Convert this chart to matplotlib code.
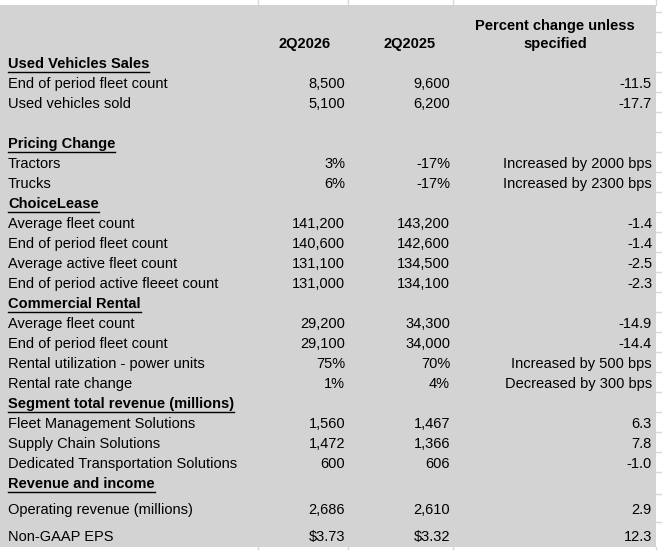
import matplotlib.pyplot as plt

plt.rcParams['font.family'] = ['Liberation Sans', 'DejaVu Sans']

# (label, 2Q2026, 2Q2025, change, is_section, y_pixel)
labels = ["Used Vehicles Sales", "End of period fleet count", "Used vehicles sold", "",
          "Pricing Change", "Tractors", "Trucks",
          "ChoiceLease", "Average fleet count", "End of period fleet count",
          "Average active fleet count", "End of period active fleeet count",
          "Commercial Rental", "Average fleet count", "End of period fleet count",
          "Rental utilization - power units", "Rental rate change",
          "Segment total revenue (millions)", "Fleet Management Solutions",
          "Supply Chain Solutions", "Dedicated Transportation Solutions",
          "Revenue and income", "Operating revenue (millions)", "Non-GAAP EPS"]
q2026 = ["", "8,500", "5,100", "", "", "3%", "6%", "", "141,200", "140,600",
         "131,100", "131,000", "", "29,200", "29,100", "75%", "1%", "",
         "1,560", "1,472", "600", "", "2,686", "$3.73"]
q2025 = ["", "9,600", "6,200", "", "", "-17%", "-17%", "", "143,200", "142,600",
         "134,500", "134,100", "", "34,300", "34,000", "70%", "4%", "",
         "1,467", "1,366", "606", "", "2,610", "$3.32"]
change = ["", "-11.5", "-17.7", "", "", "Increased by 2000 bps", "Increased by 2300 bps",
          "", "-1.4", "-1.4", "-2.5", "-2.3", "", "-14.9", "-14.4",
          "Increased by 500 bps", "Decreased by 300 bps", "", "6.3", "7.8", "-1.0",
          "", "2.9", "12.3"]
sections = {"Used Vehicles Sales", "Pricing Change", "ChoiceLease", "Commercial Rental",
            "Segment total revenue (millions)", "Revenue and income"}

W, H = 662, 550
fig = plt.figure(figsize=(W / 100, H / 100), dpi=100)
ax = fig.add_axes([0, 0, 1, 1])
ax.set_xlim(0, W)
ax.set_ylim(H, 0)
ax.axis("off")

# white margins with faint grid, gray block
for x in [258, 348, 453, 656]:
    ax.plot([x, x], [0, 5], color="#d8d8d8", lw=1)
    ax.plot([x, x], [547, H], color="#d8d8d8", lw=1)
for y in [12, 32, 52, 72, 92, 112, 132, 152, 172, 192, 212, 232, 252, 272, 292, 312,
          332, 352, 372, 392, 412, 432, 452, 472, 494, 522]:
    ax.plot([656, W], [y, y], color="#d8d8d8", lw=1)
ax.add_patch(plt.Rectangle((0, 5), 656, 542, color="#d3d3d3", lw=0))

fs = 10.5
ax.text(305, 44, "2Q2026", ha="center", va="center", fontsize=fs, fontweight="bold")
ax.text(410, 44, "2Q2025", ha="center", va="center", fontsize=fs, fontweight="bold")
ax.text(555, 35, "Percent change unless\nspecified", ha="center", va="center",
        fontsize=fs, fontweight="bold", linespacing=1.3)

ys = [64 + 20 * i for i in range(22)] + [510, 537]
for lab, a, b, c, y in zip(labels, q2026, q2025, change, ys):
    if lab in sections:
        t = ax.text(8, y, lab, ha="left", va="center", fontsize=fs, fontweight="bold")
        # underline
        fig.canvas.draw()
        bb = t.get_window_extent().transformed(ax.transData.inverted())
        ax.plot([bb.x0, bb.x1], [y + 8, y + 8], color="black", lw=1)
    else:
        ax.text(8, y, lab, ha="left", va="center", fontsize=fs)
    ax.text(345, y, a, ha="right", va="center", fontsize=fs)
    ax.text(450, y, b, ha="right", va="center", fontsize=fs)
    ax.text(652, y, c, ha="right", va="center", fontsize=fs)

fig.savefig("out.png", dpi=100)
